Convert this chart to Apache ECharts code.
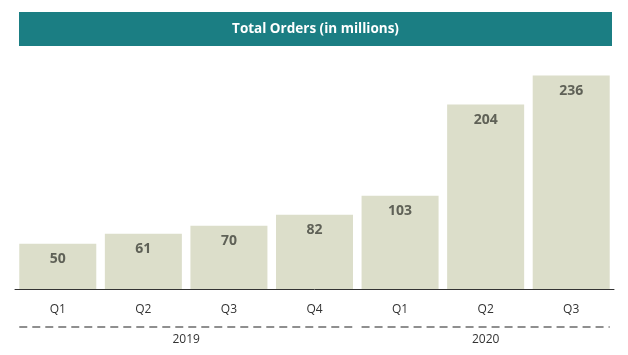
<!DOCTYPE html>
<html><head><meta charset="utf-8">
<script src="https://cdn.jsdelivr.net/npm/echarts@6/dist/echarts.min.js"></script>
<style>html,body{margin:0;padding:0;background:#fff}#c{width:628px;height:355px}</style>
</head><body><div id="c"></div>
<script>
const titleText = 'Total Orders (in millions)';
const quarters = ['Q1','Q2','Q3','Q4','Q1','Q2','Q3'];
const orders = [50, 61, 70, 82, 103, 204, 236];
const years = ['2019', '2020'];
const yearSpans = [[0.05, 3.95], [4.05, 6.95]];
const yearCenters = [2, 5.5];

const FONT = '"Open Sans", sans-serif';
const chart = echarts.init(document.getElementById('c'), null, {renderer:'canvas'});

const bracketSeries = yearSpans.map((s, i) => ({
  type: 'line', xAxisIndex: 1, yAxisIndex: 1, symbol: 'none', silent: true,
  data: [[s[0], 1], [s[1], 1]],
  lineStyle: {color: '#6b6b6b', width: 1.5, type: [8, 5]}
}));

chart.setOption({
  animation: false,
  backgroundColor: '#fff',
  graphic: [{
    type: 'group', left: 19, top: 12,
    children: [
      {type: 'rect', shape: {x: 0, y: 0, width: 593, height: 34}, style: {fill: '#1b7e83'}},
      {type: 'text', x: 296.5, y: 17, style: {text: titleText, fill: '#fff', font: 'bold 13.5px ' + FONT, textAlign: 'center', textVerticalAlign: 'middle'}}
    ]
  }],
  grid: [
    {left: 15, right: 14, top: 72, bottom: 66},
    {left: 15, right: 14, top: 326, height: 2}
  ],
  xAxis: [{
    type: 'category', data: quarters, gridIndex: 0,
    axisLine: {lineStyle: {color: '#333', width: 1}},
    axisTick: {show: false},
    axisLabel: {color: '#333', fontSize: 12, fontFamily: FONT, margin: 15}
  }, {
    type: 'value', gridIndex: 1, min: 0, max: 7, interval: 0.5,
    axisLine: {show: false}, axisTick: {show: false}, splitLine: {show: false},
    axisLabel: {color: '#333', fontSize: 12, fontFamily: FONT, margin: 6,
      showMinLabel: true, showMaxLabel: true,
      formatter: v => { const i = yearCenters.indexOf(v); return i >= 0 ? years[i] : ''; }}
  }],
  yAxis: [{
    type: 'value', gridIndex: 0, min: 0, max: 240, show: false
  }, {
    type: 'value', gridIndex: 1, min: 0, max: 2, show: false
  }],
  series: [{
    type: 'bar', data: orders, barCategoryGap: '10%',
    itemStyle: {color: '#dcdeca'},
    label: {show: true, position: 'insideTop', distance: 8, color: '#5f6157', fontWeight: 'bold', fontSize: 14, fontFamily: FONT}
  }].concat(bracketSeries)
});
</script></body></html>
